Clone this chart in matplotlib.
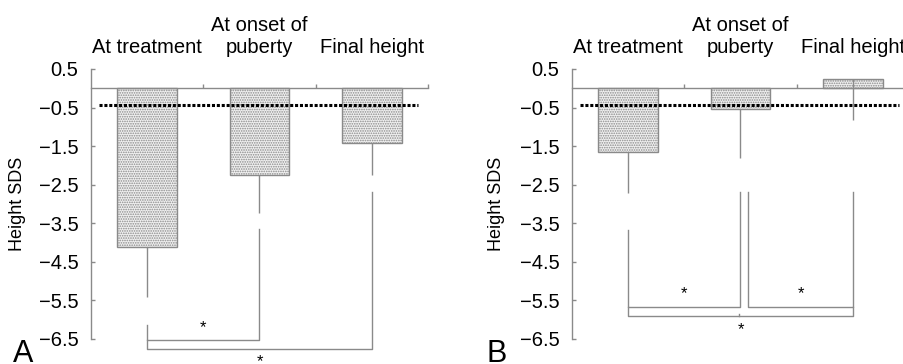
import matplotlib.pyplot as plt

plt.rcParams['font.family'] = ['Liberation Sans', 'DejaVu Sans']
plt.rcParams['hatch.linewidth'] = 0.8
plt.rcParams['hatch.color'] = '#a4a4a4'

# data
categories = ['At treatment', 'At onset of\npuberty', 'Final height']
means_a = [-4.11, -2.25, -1.42]
err_a = [1.30, 0.98, 0.84]
means_b = [-1.64, -0.54, 0.23]
err_b = [1.08, 1.27, 1.05]
ref_line = -0.43
yticks = [0.5, -0.5, -1.5, -2.5, -3.5, -4.5, -5.5, -6.5]

# significance brackets: (left cat, right cat, left start, right start, level, star y)
brackets_a = [(0, 1, -6.13, -3.64, -6.52, -6.20),
              (0, 2, -6.52, -2.68, -6.75, -7.08)]
brackets_b = [(0, 1, -3.67, -2.68, -5.66, -5.33),
              (1.07, 2, -2.68, -2.68, -5.66, -5.33),
              (0, 2, -5.66, -5.66, -5.90, -6.26)]

GRAY = '#8a8a8a'
FS = 14.5


def draw_panel(ax, means, errs, brackets, letter, letter_x, label_x):
    x = list(range(len(categories)))
    ax.bar(x, means, width=0.53, facecolor='#f0f0f0', edgecolor=GRAY,
           linewidth=1.0, hatch='.......', zorder=2)
    ax.errorbar(x, means, yerr=[errs, [0] * len(errs)], fmt='none',
                ecolor=GRAY, elinewidth=1.0, capsize=0, zorder=3)
    ax.hlines(ref_line, -0.43, 2.41, colors='black', linestyles=(0, (1, 0.6)),
              linewidth=2.2, zorder=4)

    ax.set_xlim(-0.5, 2.5)
    ax.set_ylim(-6.5, 0.5)
    ax.set_yticks(yticks)
    ax.set_yticklabels([f'{v:.1f}'.replace('-', '\u2212') for v in yticks],
                       fontsize=FS)
    ax.spines['top'].set_visible(False)
    ax.spines['right'].set_visible(False)
    ax.spines['bottom'].set_position(('data', 0))
    for s in ('left', 'bottom'):
        ax.spines[s].set_color(GRAY)
        ax.spines[s].set_linewidth(1.0)
    ax.set_xticks([0.5, 1.5, 2.5])
    ax.set_xticklabels([])
    ax.tick_params(axis='both', direction='in', length=3, color=GRAY, width=1.0)
    ax.tick_params(axis='y', pad=9)
    ax.set_ylabel('Height SDS', fontsize=13)
    ax.yaxis.set_label_coords(label_x, 0.5)

    for i, lab in enumerate(categories):
        ax.text(i, 1.059, lab, transform=ax.get_xaxis_transform(), ha='center',
                va='baseline', fontsize=FS, linespacing=1.2)

    for (l, r, ls, rs, lev, sy) in brackets:
        ax.plot([l, l, r, r], [ls, lev, lev, rs], color=GRAY, lw=1.0,
                clip_on=False, zorder=3)
        ax.text((l + r) / 2, sy, '*', ha='center', va='center', fontsize=12,
                clip_on=False)

    ax.text(letter_x, -0.085, letter, transform=ax.transAxes, fontsize=22,
            ha='right', va='baseline')


fig = plt.figure(figsize=(9.04, 3.64), dpi=100)
ax_a = fig.add_axes([91 / 904, 25 / 364, 337 / 904, 270 / 364])
ax_b = fig.add_axes([572 / 904, 25 / 364, 337 / 904, 270 / 364])
draw_panel(ax_a, means_a, err_a, brackets_a, 'A', -0.172, -0.193)
draw_panel(ax_b, means_b, err_b, brackets_b, 'B', -0.193, -0.199)
# small notch in the middle of the long bracket in panel B
ax_b.plot([0.99, 0.99], [-5.90, -5.84], color=GRAY, lw=1.0, clip_on=False)

fig.savefig('out.png', dpi=100)
